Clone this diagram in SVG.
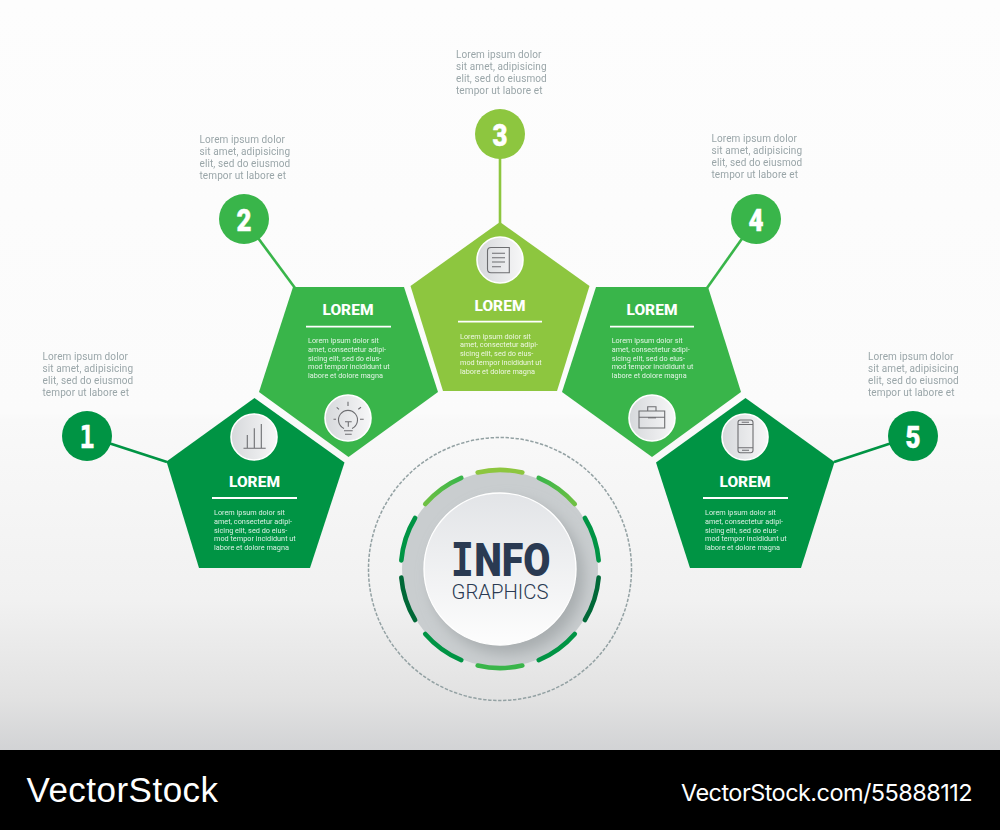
<svg xmlns="http://www.w3.org/2000/svg" xmlns:xlink="http://www.w3.org/1999/xlink" width="1000" height="830" viewBox="0 0 1000 830">
<style>
.dk{fill:#009444}.md{fill:#39b54a}.lt{fill:#8dc63f}
.c{stroke-width:2.6;fill:none}
.num{font-family:Roboto,"Liberation Sans",sans-serif;font-weight:900;font-size:32px;fill:#fff;stroke:#fff;stroke-width:.5;text-anchor:middle}
.ttl{font-family:Roboto,"Liberation Sans",sans-serif;font-weight:800;font-size:15.5px;letter-spacing:.05px;fill:#fff;text-anchor:middle}
.rule{stroke:#fff;stroke-width:1.8}
.body{font-family:Roboto,"Liberation Sans",sans-serif;font-size:7.3px;fill:#fff;opacity:.85}
.lab{font-family:Roboto,"Liberation Sans",sans-serif;font-size:10px;letter-spacing:.1px;fill:#99a5a8;opacity:.99}
.ib{fill:url(#ig);stroke:#fff;stroke-width:1.6}
.ic{fill:none;stroke:#6d6e71;stroke-width:1.1}
.arc{fill:none;stroke-width:4.6;stroke-linecap:round}
</style>
<defs>
<linearGradient id="bg" x1="0" y1="0" x2="0" y2="1">
<stop offset="0" stop-color="#fdfdfd"/><stop offset=".55" stop-color="#fbfbfb"/><stop offset=".56" stop-color="#f9f9f9"/><stop offset=".8" stop-color="#f1f1f1"/><stop offset=".93" stop-color="#e2e2e2"/><stop offset="1" stop-color="#d2d3d5"/>
</linearGradient>
<linearGradient id="ig" x1="0" y1="0" x2="1" y2="0"><stop offset="0" stop-color="#d6d8db"/><stop offset="1" stop-color="#f7f7f8"/></linearGradient>
<linearGradient id="hub" x1="0" y1="0" x2="0" y2="1"><stop offset="0" stop-color="#e2e4e7"/><stop offset="1" stop-color="#fdfdfd"/></linearGradient>
<linearGradient id="a1"><stop offset="0" stop-color="#39b54a"/><stop offset="1" stop-color="#6fc043"/></linearGradient>
<linearGradient id="a9"><stop offset="0" stop-color="#6fc043"/><stop offset="1" stop-color="#39b54a"/></linearGradient>
<filter id="sh" x="-30%" y="-30%" width="160%" height="160%"><feGaussianBlur stdDeviation="7"/></filter>
<clipPath id="disc"><circle cx="500" cy="569" r="98"/></clipPath>
<path id="seg" d="M477.7 472.5A99 99 0 0 1 522.3 472.5"/>
</defs>
<rect width="1000" height="750" fill="url(#bg)"/>
<rect y="750" width="1000" height="80" fill="#000"/>

<g id="connectors" class="c">
<line class="c" x1="87" y1="436" x2="167" y2="462" stroke="#009444"/>
<line class="c" x1="244" y1="219" x2="295" y2="288" stroke="#39b54a"/>
<line class="c" x1="500" y1="134" x2="500" y2="223" stroke="#8dc63f"/>
<line class="c" x1="756" y1="219" x2="707" y2="288" stroke="#39b54a"/>
<line class="c" x1="913" y1="436" x2="834" y2="462" stroke="#009444"/>
</g>

<g id="node-1">
<polygon class="dk" points="254.5,398 344.5,462.5 310,568 199,568 166.5,461.5"/>
<circle class="dk" cx="87" cy="436" r="25"/>
<text class="num" x="87" y="448" style="font-family:'DejaVu Sans Mono',monospace;font-weight:700" textLength="15" lengthAdjust="spacingAndGlyphs">1</text>
<text class="lab"><tspan x="42.5" y="359.5">Lorem ipsum dolor</tspan><tspan x="42.5" y="371.7">sit amet, adipisicing</tspan><tspan x="42.5" y="384">elit, sed do eiusmod</tspan><tspan x="42.5" y="396">tempor ut labore et</tspan></text>
<circle class="ib" cx="254" cy="437" r="23"/>
<path class="ic" d="M243.5 448.3H265.7M247.3 448.3V435M254.3 448.3V428.3M261.3 448.3V424"/>
<text class="ttl" x="254.5" y="487">LOREM</text>
<line class="rule" x1="212" y1="498" x2="297" y2="498"/>
<text class="body"><tspan x="214" y="515">Lorem ipsum dolor sit</tspan><tspan x="214" y="523.8">amet, consectetur adipi-</tspan><tspan x="214" y="532.5">sicing elit, sed do eius-</tspan><tspan x="214" y="541.3">mod tempor incididunt ut</tspan><tspan x="214" y="550">labore et dolore magna</tspan></text>
</g>

<g id="node-2">
<polygon class="md" points="293,287 404,287 438,392 348.5,457 259,392"/>
<circle class="md" cx="244" cy="219" r="25"/>
<text class="num" x="244" y="231" textLength="15" lengthAdjust="spacingAndGlyphs">2</text>
<text class="lab"><tspan x="199.5" y="142.7">Lorem ipsum dolor</tspan><tspan x="199.5" y="155">sit amet, adipisicing</tspan><tspan x="199.5" y="167.3">elit, sed do eiusmod</tspan><tspan x="199.5" y="179.3">tempor ut labore et</tspan></text>
<text class="ttl" x="348" y="315">LOREM</text>
<line class="rule" x1="306" y1="326.7" x2="391" y2="326.7"/>
<text class="body"><tspan x="308" y="343">Lorem ipsum dolor sit</tspan><tspan x="308" y="351.8">amet, consectetur adipi-</tspan><tspan x="308" y="360.5">sicing elit, sed do eius-</tspan><tspan x="308" y="369.3">mod tempor incididunt ut</tspan><tspan x="308" y="378">labore et dolore magna</tspan></text>
<circle class="ib" cx="348" cy="418" r="23"/>
<path class="ic" d="M344 428.5A9.5 9.5 0 1 1 352 428.5M348 401.7V406M333.5 419.3H336M360 419.3H363.7M336.7 407.3L339 409.3M361 407.3L358.3 409.3M345 421.7H351.7M348.3 421.7V426.7M344 430.7H352.7M345 434.3H351.7"/>
</g>

<g id="node-3">
<polygon class="lt" points="500,222 589.5,286 557,391 443,391 410.5,286"/>
<circle class="lt" cx="500" cy="134" r="25"/>
<text class="num" x="500" y="146" textLength="15" lengthAdjust="spacingAndGlyphs">3</text>
<text class="lab"><tspan x="456" y="57.7">Lorem ipsum dolor</tspan><tspan x="456" y="70">sit amet, adipisicing</tspan><tspan x="456" y="82.3">elit, sed do eiusmod</tspan><tspan x="456" y="94.3">tempor ut labore et</tspan></text>
<circle class="ib" cx="500" cy="260" r="23"/>
<path class="ic" d="M491 247.5H509.3V272.7H491Q487.5 272.7 487.5 269V251Q487.5 247.5 491 247.5ZM492 253.3H505M492 257.7H505M492 262H505M492 266.7H501"/>
<text class="ttl" x="500" y="310.5">LOREM</text>
<line class="rule" x1="458" y1="321.7" x2="542" y2="321.7"/>
<text class="body"><tspan x="460" y="338.5">Lorem ipsum dolor sit</tspan><tspan x="460" y="347.3">amet, consectetur adipi-</tspan><tspan x="460" y="356">sicing elit, sed do eius-</tspan><tspan x="460" y="364.8">mod tempor incididunt ut</tspan><tspan x="460" y="373.5">labore et dolore magna</tspan></text>
</g>

<g id="node-4">
<polygon class="md" points="596,287 708,287 741,392 652,457 562,392"/>
<circle class="md" cx="756" cy="219" r="25"/>
<text class="num" x="756" y="231" textLength="15" lengthAdjust="spacingAndGlyphs">4</text>
<text class="lab"><tspan x="711.5" y="141.7">Lorem ipsum dolor</tspan><tspan x="711.5" y="154">sit amet, adipisicing</tspan><tspan x="711.5" y="166.3">elit, sed do eiusmod</tspan><tspan x="711.5" y="178.3">tempor ut labore et</tspan></text>
<text class="ttl" x="652" y="315">LOREM</text>
<line class="rule" x1="610" y1="326.7" x2="694" y2="326.7"/>
<text class="body"><tspan x="611.7" y="343">Lorem ipsum dolor sit</tspan><tspan x="611.7" y="351.8">amet, consectetur adipi-</tspan><tspan x="611.7" y="360.5">sicing elit, sed do eius-</tspan><tspan x="611.7" y="369.3">mod tempor incididunt ut</tspan><tspan x="611.7" y="378">labore et dolore magna</tspan></text>
<circle class="ib" cx="652" cy="418" r="23"/>
<path class="ic" d="M639 411H664.7V428H639ZM647.7 411V406.7H656V411M639 417.3H664.7"/>
<path class="ic" d="M648 417.8H656" stroke-width="1.6"/>
</g>

<g id="node-5">
<polygon class="dk" points="745.5,398 834.5,462 801,568 690,568 656,462.5"/>
<circle class="dk" cx="913" cy="436" r="25"/>
<text class="num" x="913" y="448" textLength="15" lengthAdjust="spacingAndGlyphs">5</text>
<text class="lab"><tspan x="868" y="359.5">Lorem ipsum dolor</tspan><tspan x="868" y="371.7">sit amet, adipisicing</tspan><tspan x="868" y="384">elit, sed do eiusmod</tspan><tspan x="868" y="396">tempor ut labore et</tspan></text>
<circle class="ib" cx="745" cy="437" r="23"/>
<rect class="ic" x="738" y="420" width="15" height="32.7" rx="2.4"/>
<path class="ic" d="M738 424.5H753M738 447.8H753M741.7 422.3H749M742 450.3H749"/>
<text class="ttl" x="745" y="487">LOREM</text>
<line class="rule" x1="703" y1="498" x2="788" y2="498"/>
<text class="body"><tspan x="705" y="515">Lorem ipsum dolor sit</tspan><tspan x="705" y="523.8">amet, consectetur adipi-</tspan><tspan x="705" y="532.5">sicing elit, sed do eius-</tspan><tspan x="705" y="541.3">mod tempor incididunt ut</tspan><tspan x="705" y="550">labore et dolore magna</tspan></text>
</g>

<g id="hub">
<circle cx="500" cy="569" r="131.5" fill="none" stroke="#93a1a3" stroke-width="1.5" stroke-dasharray="3.4 1.6"/>
<circle cx="500" cy="569" r="98" fill="#c9cdcf"/>
<g clip-path="url(#disc)"><circle cx="507" cy="577" r="77" fill="#9ea3a6" fill-opacity=".75" filter="url(#sh)"/></g>
<use xlink:href="#seg" href="#seg" class="arc" stroke="#8dc63f"/>
<use xlink:href="#seg" href="#seg" class="arc" stroke="url(#a1)" transform="rotate(36 500 569)"/>
<use xlink:href="#seg" href="#seg" class="arc" stroke="#009444" transform="rotate(72 500 569)"/>
<use xlink:href="#seg" href="#seg" class="arc" stroke="#006837" transform="rotate(108 500 569)"/>
<use xlink:href="#seg" href="#seg" class="arc" stroke="#009444" transform="rotate(144 500 569)"/>
<use xlink:href="#seg" href="#seg" class="arc" stroke="#39b54a" transform="rotate(180 500 569)"/>
<use xlink:href="#seg" href="#seg" class="arc" stroke="#009444" transform="rotate(216 500 569)"/>
<use xlink:href="#seg" href="#seg" class="arc" stroke="#006837" transform="rotate(252 500 569)"/>
<use xlink:href="#seg" href="#seg" class="arc" stroke="#009444" transform="rotate(288 500 569)"/>
<use xlink:href="#seg" href="#seg" class="arc" stroke="url(#a9)" transform="rotate(324 500 569)"/>
<circle cx="500" cy="569" r="76" fill="url(#hub)" stroke="#fff" stroke-width="1.4"/>
<text x="450.5" y="576" textLength="100" lengthAdjust="spacingAndGlyphs" font-family="Roboto,'Liberation Sans',sans-serif" font-weight="900" font-size="46" fill="#2a3a52"><tspan font-family="'DejaVu Sans Mono',monospace" font-weight="700">I</tspan>NFO</text>
<text x="451.5" y="599" textLength="97" lengthAdjust="spacingAndGlyphs" font-family="Roboto,'Liberation Sans',sans-serif" font-weight="300" font-size="21" fill="#2a3a52">GRAPHICS</text>
</g>

<g id="watermark">
<text x="26.5" y="801.5" font-family="'Liberation Sans',Arial,sans-serif" font-size="35" letter-spacing=".48" fill="#fff">VectorStock</text>
<text x="681" y="801" font-family="Inter,'Liberation Sans',sans-serif" font-size="23.5" letter-spacing="-.56" fill="#fff">VectorStock.com/55888112</text>
</g>
</svg>
